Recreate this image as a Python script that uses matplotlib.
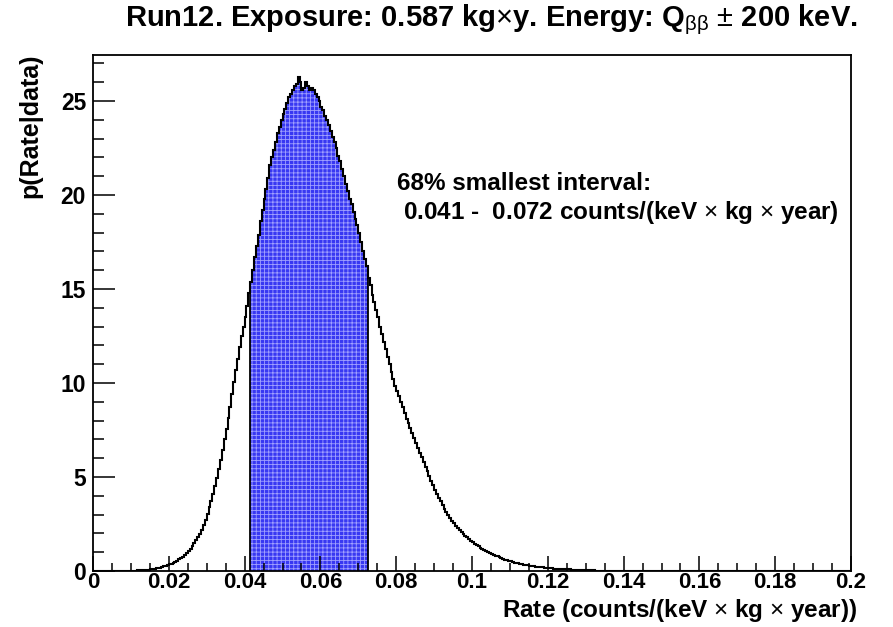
import numpy as np
import matplotlib
matplotlib.use("Agg")
import matplotlib.pyplot as plt
from matplotlib.ticker import MultipleLocator, FuncFormatter

plt.rcParams['font.family'] = ['Liberation Sans', 'DejaVu Sans']
plt.rcParams['mathtext.fontset'] = 'custom'
plt.rcParams['mathtext.rm'] = 'Liberation Sans'
plt.rcParams['mathtext.it'] = 'Liberation Sans'
plt.rcParams['mathtext.bf'] = 'Liberation Sans:bold'
plt.rcParams['hatch.linewidth'] = 0.6

# ---- data ----
bin_width = 0.0005
first_bin = 0.008          # left edge of first listed bin
posterior = [
    0.005, 0.008, 0.010, 0.012, 0.015, 0.018, 0.022, 0.027, 0.032, 0.038,   # 0.0080-
    0.045, 0.053, 0.063, 0.075, 0.088, 0.10, 0.12, 0.14, 0.16, 0.18,        # 0.0130-
    0.21, 0.24, 0.27, 0.31, 0.35, 0.39, 0.44, 0.49, 0.55, 0.62,             # 0.0180-
    0.69, 0.77, 0.86, 0.96, 1.07, 1.19, 1.32, 1.47, 1.63, 1.80,             # 0.0230-
    1.99, 2.20, 2.43, 2.70, 3.05, 3.38, 3.72, 4.10, 4.50, 4.95,             # 0.0280-
    5.42, 5.92, 6.45, 7.00, 7.55, 8.15, 8.75, 9.40, 10.05, 10.7,            # 0.0330-
    11.3, 11.9, 12.5, 13.0, 13.5, 14.1, 14.8, 15.4, 16.0, 16.7,             # 0.0380-
    17.3, 17.9, 18.6, 19.2, 19.8, 20.3, 20.9, 21.6, 22.0, 22.4,             # 0.0430-
    22.8, 23.3, 23.6, 24.0, 24.3, 24.6, 24.9, 25.2, 25.4, 25.6,             # 0.0480-
    25.8, 25.9, 26.3, 26.0, 25.6, 25.7, 26.0, 25.8, 25.6, 25.7,             # 0.0530-
    25.6, 25.4, 25.2, 25.0, 24.7, 24.5, 24.2, 24.0, 23.7, 23.4,             # 0.0580-
    23.1, 22.8, 22.5, 22.1, 21.8, 21.4, 21.0, 20.6, 20.2, 19.8,             # 0.0630-
    19.5, 19.1, 18.7, 18.4, 18.0, 17.5, 17.0, 16.6, 16.2, 15.6,             # 0.0680-
    15.2, 14.7, 14.3, 13.9, 13.5, 13.0, 12.6, 12.2, 11.8, 11.4,             # 0.0730-
    11.0, 10.6, 10.2, 9.85, 9.6, 9.3, 9.0, 8.7, 8.4, 8.1,                   # 0.0780-
    7.85, 7.6, 7.35, 7.05, 6.8, 6.55, 6.3, 6.05, 5.8, 5.55,                 # 0.0830-
    5.3, 5.05, 4.8, 4.55, 4.3, 4.1, 3.9, 3.7, 3.5, 3.32,                    # 0.0880-
    3.15, 2.98, 2.83, 2.68, 2.55, 2.42, 2.30, 2.19, 2.08, 1.98,             # 0.0930-
    1.88, 1.79, 1.70, 1.62, 1.54, 1.46, 1.39, 1.32, 1.25, 1.19,             # 0.0980-
    1.13, 1.07, 1.02, 0.97, 0.92, 0.87, 0.82, 0.78, 0.73, 0.69,             # 0.1030-
    0.65, 0.61, 0.58, 0.54, 0.51, 0.48, 0.45, 0.43, 0.40, 0.38,             # 0.1080-
    0.36, 0.34, 0.32, 0.30, 0.28, 0.265, 0.25, 0.235, 0.22, 0.21,           # 0.1130-
    0.20, 0.19, 0.18, 0.17, 0.16, 0.15, 0.14, 0.13, 0.12, 0.115,            # 0.1180-
    0.11, 0.10, 0.095, 0.09, 0.085, 0.08, 0.075, 0.07, 0.065, 0.06,         # 0.1230-
    0.055, 0.05, 0.046, 0.042, 0.039, 0.036, 0.033, 0.030, 0.028, 0.025,    # 0.1280-
    0.023, 0.021, 0.019, 0.017, 0.015, 0.014, 0.012, 0.011, 0.010, 0.009,   # 0.1330-
    0.008, 0.007, 0.006, 0.005, 0.004, 0.004, 0.003, 0.003, 0.002, 0.002,   # 0.1380-
    0.001, 0.001, 0.001, 0.001, 0.001, 0.001, 0.0, 0.0, 0.0, 0.0,           # 0.1430-
]
interval_lo = 0.0415
interval_hi = 0.0725
interval_text_lo = "0.041"
interval_text_hi = "0.072"
x_range = (0.0, 0.2)
y_max = 27.45

# ---- build histogram over full range ----
n_all = int(round((x_range[1] - x_range[0]) / bin_width))
edges = x_range[0] + bin_width * np.arange(n_all + 1)
centers = 0.5 * (edges[:-1] + edges[1:])
vals = np.zeros(n_all)
start = int(round((first_bin - x_range[0]) / bin_width))
vals[start:start + len(posterior)] = posterior

fig = plt.figure(figsize=(8.93, 6.27), dpi=100)
ax = fig.add_axes([93 / 893, 1 - 571 / 627, (851 - 93) / 893, (571 - 55) / 627])

# filled smallest interval
sel = np.where((centers > interval_lo) & (centers < interval_hi))[0]
i0, i1 = sel[0], sel[-1]
ax.stairs(vals[i0:i1 + 1], edges[i0:i1 + 2], fill=True, facecolor='#3838f2',
          edgecolor='#a0a0ff', hatch='++++', linewidth=0, zorder=1)
ax.vlines([edges[i0], edges[i1 + 1]], 0, [vals[i0], vals[i1]],
          colors='black', linewidth=1.3, zorder=2)

# histogram outline
ax.stairs(vals, edges, color='black', linewidth=1.5, zorder=3)

ax.set_xlim(*x_range)
ax.set_ylim(0, y_max)

ax.xaxis.set_major_locator(MultipleLocator(0.02))
ax.xaxis.set_minor_locator(MultipleLocator(0.005))
ax.yaxis.set_major_locator(MultipleLocator(5))
ax.yaxis.set_minor_locator(MultipleLocator(1))
ax.xaxis.set_major_formatter(FuncFormatter(lambda v, p: f"{v:g}"))
ax.yaxis.set_major_formatter(FuncFormatter(lambda v, p: f"{v:g}"))

ax.tick_params(axis='x', which='major', direction='in', length=11, width=1.1,
               labelsize=16, pad=1)
ax.tick_params(axis='x', which='minor', direction='in', length=5.5, width=1.1)
ax.tick_params(axis='y', which='major', direction='in', length=16, width=1.1,
               labelsize=16.5, pad=5)
ax.tick_params(axis='y', which='minor', direction='in', length=8, width=1.1)
for lab in ax.get_xticklabels() + ax.get_yticklabels():
    lab.set_fontweight('bold')
for sp in ax.spines.values():
    sp.set_linewidth(1.3)

fig.text(491 / 893, 1 - 20 / 627,
         r"Run12. Exposure: 0.587 kg$\times$y. Energy: Q$_{\mathrm{\beta\beta}}$ $\pm$ 200 keV.",
         ha='center', va='center', fontsize=21, fontweight='bold')

fig.text(857 / 893, 1 - 617 / 627,
         r"Rate (counts/(keV $\times$ kg $\times$ year))",
         ha='right', va='baseline', fontsize=17.5, fontweight='bold')
fig.text(30 / 893, 1 - 54 / 627, "p(Rate|data)", rotation=90,
         ha='center', va='top', fontsize=18, fontweight='bold')

fig.text(397 / 893, 1 - 183 / 627, "68% smallest interval:",
         ha='left', va='center', fontsize=17.5, fontweight='bold')
fig.text(403 / 893, 1 - 213 / 627,
         f"{interval_text_lo} -  {interval_text_hi} counts/(keV $\\times$ kg $\\times$ year)",
         ha='left', va='center', fontsize=17.5, fontweight='bold')

fig.savefig("out.png", dpi=100)
